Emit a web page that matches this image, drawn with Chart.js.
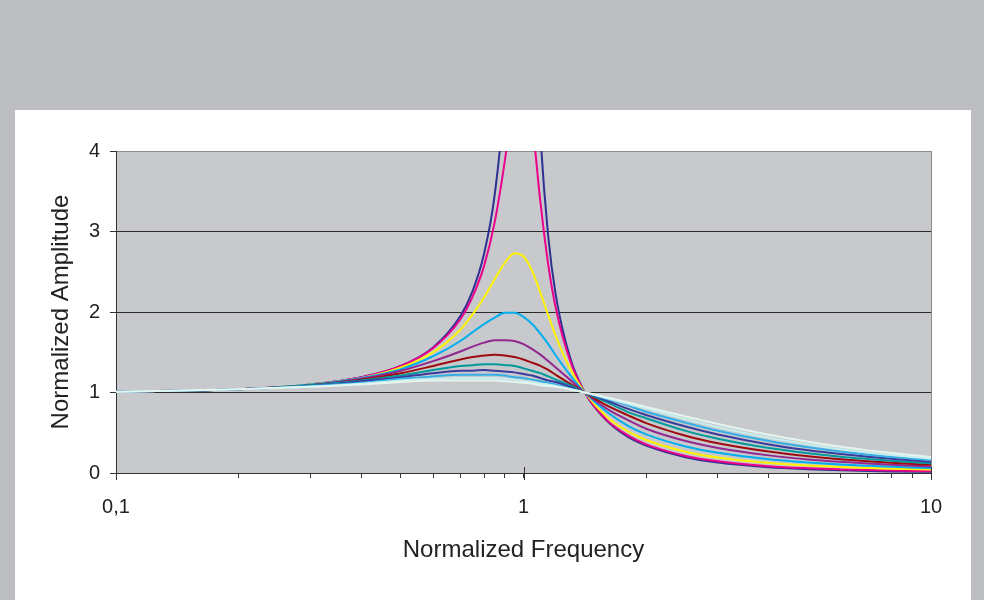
<!DOCTYPE html>
<html>
<head>
<meta charset="utf-8">
<script src="https://cdn.jsdelivr.net/npm/chart.js@4/dist/chart.umd.min.js"></script>
<style>
  html, body { margin: 0; padding: 0; background: #bdbec1; }
  #panel { position: absolute; left: 15px; top: 110px; width: 956px; height: 490px; background: #ffffff; }
</style>
</head>
<body>
<div id="panel"><canvas id="responseChart"></canvas></div>
<script>
// normalized frequency (x) samples
const freq = [0.1, 0.2, 0.3, 0.4, 0.5, 0.6, 0.7, 0.75, 0.8, 0.85, 0.9, 0.95, 1, 1.05, 1.1, 1.15, 1.2, 1.3, 1.414, 1.6, 1.8, 2, 2.5, 3, 4, 5, 6, 7, 8, 10];

// amplitude curves, lowest damping first
const z005 = [1.01, 1.04, 1.10, 1.19, 1.33, 1.56, 1.95, 2.26, 2.72, 3.46, 4.78, 7.38, 10.05, 6.85, 4.24, 2.94, 2.21, 1.44, 1.00, 0.65, 0.45, 0.34, 0.196, 0.130, 0.072, 0.047, 0.033, 0.025, 0.020, 0.014];
const z01 = [1.01, 1.04, 1.10, 1.19, 1.33, 1.55, 1.91, 2.19, 2.57, 3.12, 3.88, 4.77, 5.10, 4.37, 3.37, 2.59, 2.05, 1.40, 1.00, 0.66, 0.47, 0.356, 0.212, 0.145, 0.085, 0.059, 0.045, 0.036, 0.030, 0.023];
const z02 = [1.01, 1.04, 1.10, 1.18, 1.31, 1.50, 1.78, 1.97, 2.18, 2.41, 2.61, 2.73, 2.69, 2.51, 2.24, 1.96, 1.70, 1.30, 1.00, 0.70, 0.52, 0.41, 0.265, 0.193, 0.125, 0.093, 0.074, 0.062, 0.053, 0.042];
const z03 = [1.01, 1.04, 1.10, 1.18, 1.29, 1.45, 1.64, 1.75, 1.85, 1.93, 1.99, 1.99, 1.94, 1.85, 1.73, 1.60, 1.46, 1.22, 1.00, 0.76, 0.59, 0.48, 0.330, 0.251, 0.171, 0.131, 0.106, 0.090, 0.078, 0.061];
const z04 = [1.01, 1.04, 1.09, 1.17, 1.27, 1.39, 1.51, 1.57, 1.62, 1.65, 1.65, 1.64, 1.60, 1.54, 1.47, 1.39, 1.31, 1.16, 1.00, 0.80, 0.66, 0.55, 0.398, 0.311, 0.219, 0.169, 0.139, 0.118, 0.102, 0.081];
const z05 = [1.01, 1.04, 1.09, 1.16, 1.24, 1.33, 1.41, 1.44, 1.46, 1.47, 1.46, 1.44, 1.41, 1.37, 1.33, 1.28, 1.22, 1.11, 1.00, 0.84, 0.72, 0.62, 0.463, 0.370, 0.266, 0.208, 0.171, 0.146, 0.127, 0.101];
const z06 = [1.01, 1.04, 1.09, 1.15, 1.21, 1.28, 1.33, 1.34, 1.35, 1.35, 1.34, 1.33, 1.30, 1.27, 1.24, 1.20, 1.16, 1.09, 1.00, 0.88, 0.76, 0.68, 0.523, 0.426, 0.311, 0.246, 0.203, 0.174, 0.151, 0.121];
const z07 = [1.01, 1.04, 1.08, 1.14, 1.19, 1.24, 1.27, 1.27, 1.28, 1.27, 1.26, 1.25, 1.23, 1.21, 1.18, 1.15, 1.13, 1.07, 1.00, 0.90, 0.80, 0.72, 0.577, 0.478, 0.355, 0.283, 0.235, 0.201, 0.176, 0.140];
const z08 = [1.01, 1.04, 1.08, 1.12, 1.17, 1.20, 1.22, 1.22, 1.22, 1.22, 1.21, 1.19, 1.18, 1.16, 1.14, 1.12, 1.10, 1.05, 1.00, 0.92, 0.84, 0.76, 0.625, 0.526, 0.397, 0.319, 0.266, 0.228, 0.200, 0.160];
const z09 = [1.01, 1.04, 1.07, 1.11, 1.15, 1.17, 1.18, 1.18, 1.18, 1.18, 1.17, 1.16, 1.14, 1.13, 1.11, 1.10, 1.08, 1.04, 1.00, 0.93, 0.86, 0.80, 0.667, 0.569, 0.437, 0.353, 0.296, 0.255, 0.223, 0.179];
const z10 = [1.01, 1.04, 1.07, 1.10, 1.13, 1.15, 1.15, 1.15, 1.15, 1.15, 1.14, 1.13, 1.12, 1.11, 1.09, 1.08, 1.07, 1.04, 1.00, 0.94, 0.88, 0.82, 0.703, 0.608, 0.474, 0.387, 0.325, 0.281, 0.247, 0.198];

const series = [z005, z01, z02, z03, z04, z05, z06, z07, z08, z09, z10];
const seriesNames = ['0.05', '0.1', '0.2', '0.3', '0.4', '0.5', '0.6', '0.7', '0.8', '0.9', '1.0'];
const colors = ['#2e3192', '#ec008c', '#fff200', '#00aeef', '#92278f', '#9e0b0f', '#009a9c', '#3a3a9c', '#35aee6', '#c6eeee', '#e4f5ee'];

// x axis ticks (log decades) and the ones that get a label
const xTicks = [0.1, 0.2, 0.3, 0.4, 0.5, 0.6, 0.7, 0.8, 0.9, 1, 2, 3, 4, 5, 6, 7, 8, 9, 10];
const xLabelValues = [0.1, 1, 10];
const xLabels = ['0,1', '1', '10'];

const fontFamily = "'Liberation Sans', Arial, sans-serif";

// gray fill behind the plot area
const plotBackground = {
    id: 'plotBackground',
    beforeDraw(chart) {
        const { ctx, chartArea } = chart;
        ctx.save();
        ctx.fillStyle = '#c8c9cc';
        ctx.fillRect(chartArea.left, chartArea.top, chartArea.right - chartArea.left, chartArea.bottom - chartArea.top);
        ctx.restore();
    }
};

// major x ticks cross the axis line (Excel style)
const crossTicks = {
    id: 'crossTicks',
    afterDraw(chart) {
        const { ctx, chartArea } = chart;
        const xScale = chart.scales.x;
        ctx.save();
        ctx.strokeStyle = '#333';
        ctx.lineWidth = 1;
        xLabelValues.forEach(v => {
            const px = Math.round(xScale.getPixelForValue(v)) + 0.5;
            ctx.beginPath();
            ctx.moveTo(px, chartArea.bottom - 6);
            ctx.lineTo(px, chartArea.bottom + 7);
            ctx.stroke();
        });
        ctx.restore();
    }
};

const datasets = series.map((values, i) => ({
    label: seriesNames[i],
    data: freq.map((f, j) => ({ x: f, y: values[j] })),
    borderColor: colors[i],
    backgroundColor: colors[i],
    borderWidth: 2,
    pointRadius: 0,
    fill: false,
    cubicInterpolationMode: 'monotone',
    order: series.length - i // later series drawn on top
}));

const ctx = document.getElementById('responseChart').getContext('2d');
new Chart(ctx, {
    type: 'line',
    data: { datasets: datasets },
    options: {
        responsive: true,
        maintainAspectRatio: false,
        animation: false,
        layout: { padding: { left: 0, top: 41, right: 40, bottom: 0 } },
        plugins: {
            legend: { display: false },
            tooltip: { enabled: false }
        },
        scales: {
            x: {
                type: 'logarithmic',
                min: 0.1,
                max: 10,
                afterBuildTicks: (scale) => {
                    scale.ticks = xTicks.map(v => ({ value: v }));
                },
                afterFit: (scale) => { scale.height = 127; },
                ticks: {
                    autoSkip: false,
                    maxRotation: 0,
                    padding: 17,
                    color: '#222',
                    font: { family: fontFamily, size: 20 },
                    callback: (value) => {
                        const k = xLabelValues.indexOf(value);
                        return k >= 0 ? xLabels[k] : '';
                    }
                },
                grid: {
                    drawOnChartArea: true,
                    color: (c) => (c.tick && c.tick.value === 10 ? '#8c8c8c' : 'rgba(0,0,0,0)'),
                    tickColor: '#333',
                    tickLength: 5
                },
                border: { color: '#333', width: 1 },
                title: {
                    display: true,
                    text: 'Normalized Frequency',
                    color: '#222',
                    font: { family: fontFamily, size: 24 },
                    padding: { top: 0, bottom: 35 }
                }
            },
            y: {
                min: 0,
                max: 4,
                afterFit: (scale) => { scale.width = 101; },
                ticks: {
                    stepSize: 1,
                    padding: 10,
                    color: '#222',
                    font: { family: fontFamily, size: 20 }
                },
                grid: {
                    color: (c) => (c.tick && c.tick.value === 4 ? '#8c8c8c' : '#2a2a2a'),
                    tickColor: '#333',
                    tickLength: 6
                },
                border: { color: '#333', width: 1 },
                title: {
                    display: true,
                    text: 'Normalized Amplitude',
                    color: '#222',
                    font: { family: fontFamily, size: 24 },
                    padding: { top: 32, bottom: 0 }
                }
            }
        }
    },
    plugins: [plotBackground, crossTicks]
});
</script>
</body>
</html>
